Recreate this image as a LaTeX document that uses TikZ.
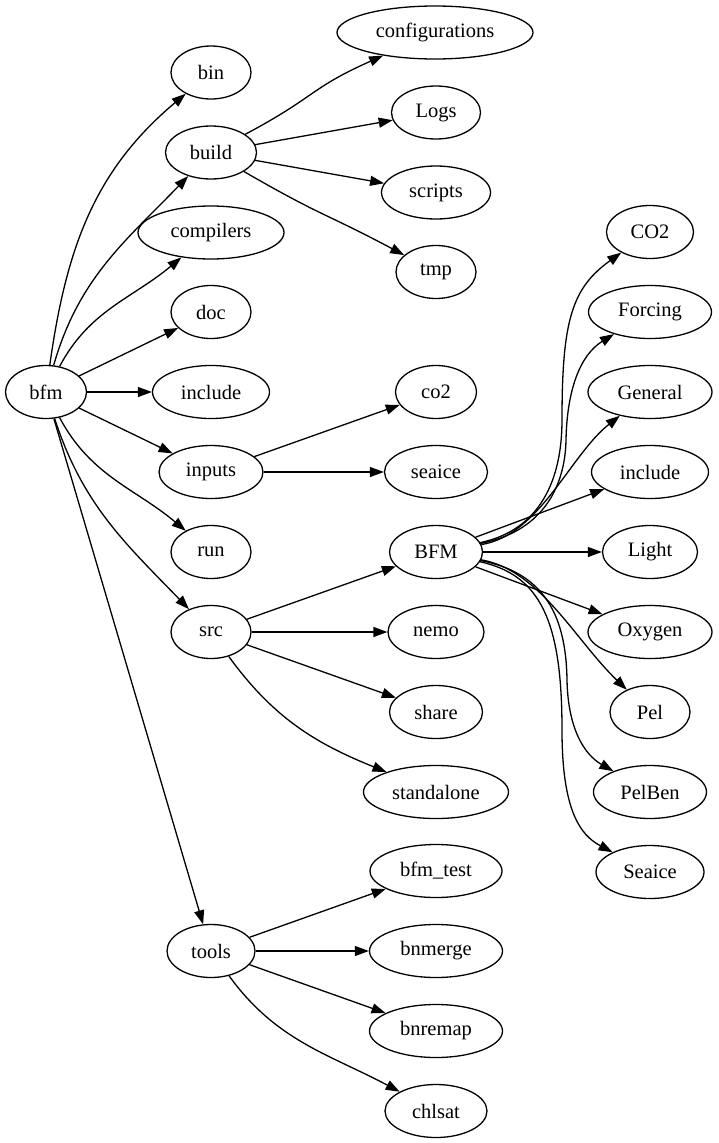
\documentclass[tikz,border=0pt]{standalone}
\usepackage{fontspec}
\setmainfont{Liberation Serif}
\usetikzlibrary{shapes.geometric,arrows.meta}
\tikzset{
  nd/.style={draw, ellipse, line width=1.3pt, inner sep=0pt, minimum height=53pt, minimum width=#1,
    font=\fontsize{20.5}{24}\selectfont},
  nd/.default=80pt,
  e/.style={-{Triangle[length=14pt,width=10pt]}, line width=1.3pt},
}
\begin{document}
\begin{tikzpicture}[x=1pt,y=1pt]
\useasboundingbox (0,0) rectangle (718,-1143);
% left
\node[nd=81pt] (bfm) at (46,-392) {bfm};
\node[nd=80pt] (bin) at (211,-72.5) {bin};
\node[nd=91pt] (build) at (211,-152.5) {build};
\node[nd=146pt] (compilers) at (211,-232.5) {compilers};
\node[nd=80pt] (doc) at (211,-312) {doc};
\node[nd=117pt] (incl) at (211,-392) {include};
\node[nd=104pt] (inputs) at (211,-472) {inputs};
\node[nd=80pt] (run) at (211,-552) {run};
\node[nd=80pt] (src) at (211,-632) {src};
\node[nd=88pt] (tools) at (211,-951) {tools};
% middle
\node[nd=196pt] (conf) at (435,-32.5) {configurations};
\node[nd=89pt] (logs) at (436,-112.5) {Logs};
\node[nd=109pt] (scripts) at (436,-192.5) {scripts};
\node[nd=80pt] (tmp) at (436,-272) {tmp};
\node[nd=81pt] (co2) at (436,-392) {co2};
\node[nd=103pt] (seaice) at (436,-472) {seaice};
\node[nd=93pt] (BFM) at (436,-552) {BFM};
\node[nd=96pt] (nemo) at (436,-632) {nemo};
\node[nd=93pt] (share) at (436,-712) {share};
\node[nd=145pt] (standalone) at (436,-792) {standalone};
\node[nd=132pt] (bfmtest) at (436,-871) {bfm\_test};
\node[nd=133pt] (bnmerge) at (436,-951) {bnmerge};
\node[nd=133pt] (bnremap) at (436,-1031) {bnremap};
\node[nd=102pt] (chlsat) at (436,-1111) {chlsat};
% right
\node[nd=87pt] (CObig) at (650,-232) {CO2};
\node[nd=123pt] (forcing) at (650,-312) {Forcing};
\node[nd=124pt] (general) at (650,-392) {General};
\node[nd=117pt] (incl2) at (650,-472) {include};
\node[nd=95pt] (light) at (650,-552) {Light};
\node[nd=124pt] (oxygen) at (650,-632) {Oxygen};
\node[nd=80pt] (pel) at (650,-712) {Pel};
\node[nd=113pt] (pelben) at (650,-792) {PelBen};
\node[nd=108pt] (seaice2) at (650,-872) {Seaice};
% edges from bfm
\draw[e] (bfm) to[out=82, in=220] (bin);
\draw[e] (bfm) to[out=74, in=226] (build);
\draw[e] (bfm) to[out=62, in=220] (compilers);
\draw[e] (bfm) -- (doc);
\draw[e] (bfm) -- (incl);
\draw[e] (bfm) -- (inputs);
\draw[e] (bfm) to[out=-62, in=140] (run);
\draw[e] (bfm) to[out=-72, in=134] (src);
\draw[e] (bfm) -- (tools);
% build
\draw[e] (build) to[out=28, in=204, looseness=1.3] (conf);
\draw[e] (build) -- (logs);
\draw[e] (build) -- (scripts);
\draw[e] (build) to[out=-30, in=152, looseness=1.3] (tmp);
% inputs
\draw[e] (inputs) -- (co2);
\draw[e] (inputs) -- (seaice);
% src
\draw[e] (src) -- (BFM);
\draw[e] (src) -- (nemo);
\draw[e] (src) -- (share);
\draw[e] (src) to[out=-54, in=158] (standalone);
% tools
\draw[e] (tools) -- (bfmtest);
\draw[e] (tools) -- (bnmerge);
\draw[e] (tools) -- (bnremap);
\draw[e] (tools) to[out=-54, in=152] (chlsat);
% BFM fan
\draw[e] (BFM) .. controls (540,-530) and (562,-480) .. (562,-420) .. controls (562,-320) and (572,-288) .. (CObig);
\draw[e] (BFM) .. controls (540,-532) and (565,-490) .. (566,-440) .. controls (567,-390) and (580,-355) .. (forcing);
\draw[e] (BFM) .. controls (540,-535) and (570,-455) .. (general);
\draw[e] (BFM) -- (incl2);
\draw[e] (BFM) -- (light);
\draw[e] (BFM) -- (oxygen);
\draw[e] (BFM) .. controls (540,-570) and (575,-640) .. (pel);
\draw[e] (BFM) .. controls (540,-572) and (566,-610) .. (567,-680) .. controls (568,-730) and (585,-755) .. (pelben);
\draw[e] (BFM) .. controls (540,-575) and (562,-620) .. (562,-730) .. controls (562,-810) and (580,-835) .. (seaice2);
\end{tikzpicture}
\end{document}
